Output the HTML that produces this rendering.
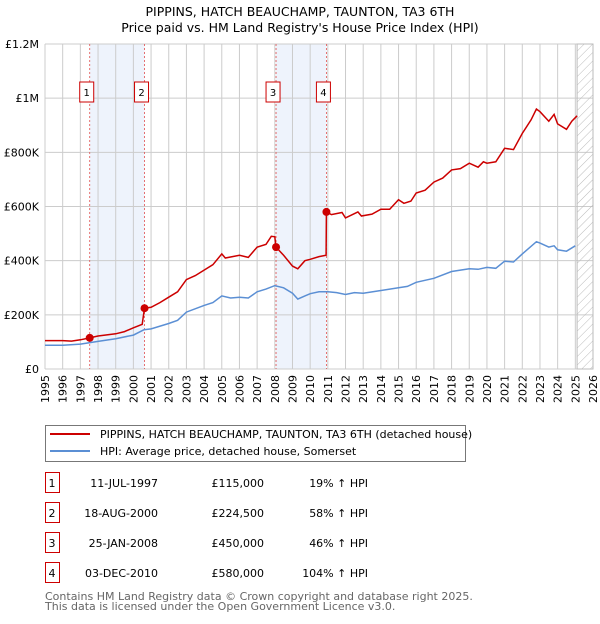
<!DOCTYPE html>
<html><head><meta charset="utf-8"><style>
body{margin:0;background:#fff;font-family:"DejaVu Sans","Liberation Sans",sans-serif;}
svg text{font-family:"DejaVu Sans","Liberation Sans",sans-serif;}
</style></head><body>
<svg id="c" width="600" height="620" xmlns="http://www.w3.org/2000/svg">
<defs><pattern id="h" width="6" height="6" patternUnits="userSpaceOnUse" patternTransform="rotate(45)"><line x1="0" y1="0" x2="0" y2="6" stroke="#bbb" stroke-width="1"/></pattern></defs>
<text x="300" y="16" text-anchor="middle" font-size="12.5" fill="#000">PIPPINS, HATCH BEAUCHAMP, TAUNTON, TA3 6TH</text>
<text x="300" y="32" text-anchor="middle" font-size="12.5" fill="#000">Price paid vs. HM Land Registry's House Price Index (HPI)</text>
<g id="plot"></g>
<g>
<rect x="45.5" y="425.5" width="420" height="36" fill="#fff" stroke="#777"/>
<line x1="50" y1="434" x2="90" y2="434" stroke="#cc0000" stroke-width="2"/>
<text x="100" y="438" font-size="11">PIPPINS, HATCH BEAUCHAMP, TAUNTON, TA3 6TH (detached house)</text>
<line x1="50" y1="451" x2="90" y2="451" stroke="#5b8fd4" stroke-width="2"/>
<text x="100" y="455" font-size="11">HPI: Average price, detached house, Somerset</text>
</g>
<g id="tbl" font-size="11"></g>
<text x="45" y="600" font-size="11" fill="#666">Contains HM Land Registry data © Crown copyright and database right 2025.</text>
<text x="45" y="610" font-size="11" fill="#666">This data is licensed under the Open Government Licence v3.0.</text>
</svg>
<script>
const redX=[1995,1996,1996.5,1997,1997.53,1998,1999,1999.5,2000,2000.5,2000.63,2001,2001.5,2002,2002.5,2003,2003.5,2004,2004.5,2005,2005.2,2006,2006.5,2007,2007.5,2007.8,2008,2008.07,2008.5,2009,2009.3,2009.7,2010,2010.5,2010.9,2010.92,2011.2,2011.8,2012,2012.7,2012.9,2013.5,2014,2014.5,2015,2015.3,2015.7,2016,2016.5,2017,2017.5,2018,2018.5,2019,2019.5,2019.8,2020,2020.5,2021,2021.5,2022,2022.5,2022.8,2023,2023.5,2023.8,2024,2024.5,2024.8,2025.1];
const redY=[105,105,103,108,115,122,130,138,152,165,224.5,228,245,265,285,330,345,365,385,425,410,420,412,450,460,490,488,450,420,380,370,400,405,415,420,580,570,578,558,580,565,572,590,590,625,612,620,650,660,690,705,735,740,760,745,765,760,765,815,810,870,920,960,950,915,940,905,885,915,935];
const blueX=[1995,1996,1997,1997.5,1998,1999,2000,2000.6,2001,2002,2002.5,2003,2004,2004.5,2005,2005.5,2006,2006.5,2007,2007.5,2008,2008.5,2009,2009.3,2009.7,2010,2010.5,2011,2011.5,2012,2012.5,2013,2014,2015,2015.5,2016,2017,2018,2019,2019.5,2020,2020.5,2021,2021.5,2022,2022.8,2023,2023.5,2023.8,2024,2024.5,2025];
const blueY=[88,88,92,97,102,112,125,145,148,168,180,210,235,245,270,262,265,262,285,295,308,300,280,258,270,278,285,285,282,275,282,280,290,300,305,320,335,360,370,368,375,372,398,395,425,470,465,450,455,440,435,455];
const saleX=[1997.53,2000.63,2008.07,2010.92];
const saleY=[115,224.5,450,580];
const saleLabels=["1","2","3","4"];
const saleDates=["11-JUL-1997","18-AUG-2000","25-JAN-2008","03-DEC-2010"];
const salePrices=["£115,000","£224,500","£450,000","£580,000"];
const saleHpi=["19% ↑ HPI","58% ↑ HPI","46% ↑ HPI","104% ↑ HPI"];
const yTicks=[0,200,400,600,800,1000,1200];
const yTickLabels=["£0","£200K","£400K","£600K","£800K","£1M","£1.2M"];
const X0=45,X1=593,Y0=369,Y1=44;
const sx=v=>X0+(v-1995)/31*(X1-X0);
const sy=v=>Y0-v/1200*(Y0-Y1);
const NS="http://www.w3.org/2000/svg";
const plot=document.getElementById('plot');
function mk(t,a,p){const e=document.createElementNS(NS,t);for(const k in a)e.setAttribute(k,a[k]);(p||plot).appendChild(e);return e;}
for(const [a,b] of [[0,1],[2,3]]){const r=mk('rect',{x:sx(saleX[a]),y:Y1,width:sx(saleX[b])-sx(saleX[a]),height:Y0-Y1,fill:'#eef3fc'});

}
for(let y=1995;y<=2026;y++){const l=mk('line',{x1:sx(y),x2:sx(y),y1:Y1,y2:Y0,stroke:'#ccc'});


const t=mk('text',{x:0,y:0,'font-size':11,transform:`translate(${sx(y)+4},${Y0+6}) rotate(-90)`,'text-anchor':'end'});t.textContent=y;

}
yTicks.forEach((v,i)=>{const l=mk('line',{x1:X0,x2:X1,y1:sy(v),y2:sy(v),stroke:'#ccc'});


const t=mk('text',{x:X0-6,y:sy(v)+4,'font-size':11,'text-anchor':'end'});t.textContent=yTickLabels[i];

});
const hs=mk('rect',{x:sx(2025.1),y:Y1,width:X1-sx(2025.1),height:Y0-Y1,fill:'url(#h)',stroke:'#bbb'});


saleX.forEach((v,i)=>{const l=mk('line',{x1:sx(v),x2:sx(v),y1:Y1,y2:Y0,stroke:'#e05050','stroke-dasharray':'2,2','stroke-width':0.8});


const bx=sx(v)-3;const r=mk('rect',{x:bx-7,y:82,width:14,height:20,fill:'#fff',stroke:'#cc0000'});


const t=mk('text',{x:bx,y:96,'font-size':10,'text-anchor':'middle'});t.textContent=saleLabels[i];

});
function line(xs,ys,col,name){const d=xs.map((x,i)=>(i?'L':'M')+sx(x).toFixed(1)+','+sy(ys[i]).toFixed(1)).join('');
const p=mk('path',{d:d,fill:'none',stroke:col,'stroke-width':1.5});

}
line(blueX,blueY,'#5b8fd4','hpi-line');
line(redX,redY,'#cc0000','price-paid-line');
saleX.forEach((v,i)=>{const c=mk('circle',{cx:sx(v),cy:sy(saleY[i]),r:4,fill:'#cc0000'});

});
const tbl=document.getElementById('tbl');
saleLabels.forEach((s,i)=>{const y=483+i*30;
const r=mk('rect',{x:45.5,y:y-10.5,width:14,height:20,fill:'#fff',stroke:'#cc0000'},tbl);


const cols=[[52,s,'middle'],[158,saleDates[i],'end'],[264,salePrices[i],'end'],[368,saleHpi[i],'end']];
cols.forEach(c=>{const t=mk('text',{x:c[0],y:y+4,'text-anchor':c[2]},tbl);t.textContent=c[1];

});});
</script>
</body></html>
